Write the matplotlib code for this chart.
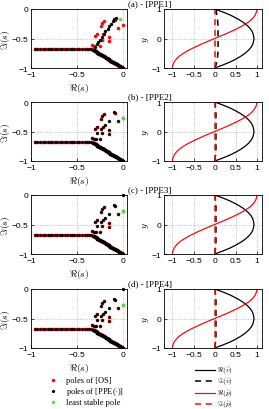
import matplotlib
matplotlib.use("Agg")
import matplotlib.pyplot as plt
import numpy as np

plt.rcParams['mathtext.fontset'] = 'cm'
plt.rcParams['font.family'] = ['Liberation Sans', 'DejaVu Sans']

# ---------------- data ----------------
panel_titles = ["(a) - [PPE1]", "(b) - [PPE2]", "(c) - [PPE3]", "(d) - [PPE4]"]

# S branch (shared by OS and all PPE)
s_re = [-0.955, -0.93, -0.90, -0.875, -0.85, -0.82, -0.795, -0.77, -0.74, -0.715,
        -0.69, -0.66, -0.635, -0.61, -0.58, -0.555, -0.53, -0.50, -0.475, -0.45,
        -0.42, -0.395, -0.37, -0.345]
s_im = -0.685

# P branch (dense)
p_re = [-0.33, -0.32, -0.31, -0.30, -0.29, -0.28, -0.27, -0.26, -0.25, -0.24,
        -0.23, -0.22, -0.21, -0.20, -0.19, -0.18, -0.17, -0.16, -0.15, -0.14,
        -0.13, -0.12, -0.11, -0.10, -0.09, -0.08, -0.07, -0.06, -0.05, -0.04,
        -0.03, -0.02, -0.01, -0.005]
p_im = [-0.69, -0.70, -0.71, -0.72, -0.73, -0.74, -0.75, -0.76, -0.77, -0.78,
        -0.785, -0.795, -0.805, -0.815, -0.825, -0.835, -0.845, -0.855, -0.865, -0.875,
        -0.88, -0.89, -0.90, -0.91, -0.92, -0.93, -0.94, -0.95, -0.96, -0.97,
        -0.975, -0.985, -0.995, -1.0]

# OS A branch (red)
os_a_re = [-0.09, 0.0, -0.21, -0.23, -0.245, -0.06, -0.28, -0.31, -0.22, -0.16,
           -0.23, -0.16, -0.34, -0.32, -0.25]
os_a_im = [-0.18, -0.27, -0.21, -0.24, -0.29, -0.33, -0.43, -0.45, -0.42, -0.48,
           -0.53, -0.55, -0.61, -0.63, -0.63]

# PPE1 A branch (black, panel a)
ppe1_a_re = [-0.08, -0.10, -0.115, -0.13, -0.16, -0.17, -0.20, -0.21, -0.235, -0.25,
             -0.27, -0.29, -0.31]
ppe1_a_im = [-0.16, -0.17, -0.21, -0.25, -0.29, -0.34, -0.38, -0.42, -0.48, -0.52,
             -0.56, -0.60, -0.65]

# extra PPE A-branch modes (panels b-d)
ppe_extra_re = [-0.10, -0.15, -0.20, -0.24, -0.28, -0.30]
ppe_extra_im = [-0.17, -0.32, -0.39, -0.45, -0.52, -0.63]
spurious_re = [0.0]
spurious_im = [0.0]

least_stable = [(-0.04, -0.17), (0.0, -0.27), (0.0, -0.27), (0.0, -0.27)]

# eigenfunction profiles
y_prof = [-1.0, -0.9, -0.8, -0.7, -0.6, -0.5, -0.4, -0.3, -0.2, -0.1, 0.0,
          0.1, 0.2, 0.3, 0.4, 0.5, 0.6, 0.7, 0.8, 0.9, 1.0]
re_v = [0.0, 0.19, 0.36, 0.50, 0.62, 0.72, 0.80, 0.86, 0.90, 0.92, 0.93,
        0.92, 0.90, 0.86, 0.80, 0.72, 0.62, 0.50, 0.36, 0.19, 0.0]
re_p = [-1.0, -0.99, -0.96, -0.91, -0.84, -0.74, -0.62, -0.48, -0.33, -0.17, 0.0,
        0.17, 0.33, 0.48, 0.62, 0.74, 0.84, 0.91, 0.96, 0.99, 1.0]
im_v_a = [0.0, 0.03, 0.05, 0.06, 0.07, 0.075, 0.08, 0.08, 0.08, 0.08, 0.08,
          0.08, 0.08, 0.08, 0.08, 0.075, 0.07, 0.06, 0.05, 0.04, 0.03]
im_v_b = [0.0, 0.01, 0.02, 0.025, 0.03, 0.03, 0.03, 0.03, 0.03, 0.03, 0.03,
          0.03, 0.03, 0.03, 0.03, 0.03, 0.03, 0.025, 0.02, 0.015, 0.01]
im_p = [0.0, 0.0, 0.0, 0.0, 0.0, 0.0, 0.0, 0.0, 0.0, 0.0, 0.0,
        0.0, 0.0, 0.0, 0.0, 0.0, 0.0, 0.0, 0.0, 0.0, 0.0]

legend_left = ['poles of [OS]', 'poles of [PPE($\\cdot$)]', 'least stable pole']
legend_right = [r'$\Re(\hat{v})$', r'$\Im(\hat{v})$', r'$\Re(\hat{p})$', r'$\Im(\hat{p})$']

# ---------------- figure ----------------
W, H = 269, 410
fig = plt.figure(figsize=(W / 100, H / 100), dpi=100)

RED = '#ee1111'
GREEN = '#55dd55'
tops = [10, 103, 196, 290]
ah = 59
tick_fs = 6.0
lab_fs = 7

def style(ax):
    ax.tick_params(direction='in', length=2.5, width=0.5, labelsize=tick_fs, pad=2)
    for sp in ax.spines.values():
        sp.set_linewidth(0.6)
    ax.grid(True, linestyle=':', color='#b0b0b0', linewidth=0.6)
    ax.set_axisbelow(True)

ms_red = 2.6
ms_blk = 2.0
for i, top in enumerate(tops):
    bottom = (H - top - ah) / H
    axL = fig.add_axes([31 / W, bottom, 96 / W, ah / H])
    axR = fig.add_axes([164 / W, bottom, 98 / W, ah / H])

    # left: poles
    axL.plot(s_re, [s_im] * len(s_re), 'o', color=RED, ms=ms_red, mew=0, zorder=3)
    axL.plot(os_a_re, os_a_im, 'o', color=RED, ms=ms_red, mew=0, zorder=3)
    axL.plot(p_re, p_im, 'o', color=RED, ms=ms_red, mew=0, zorder=3)
    axL.plot(s_re, [s_im] * len(s_re), 'o', color='k', ms=ms_blk, mew=0, zorder=4)
    axL.plot(p_re, p_im, 'o', color='k', ms=ms_blk + 0.6, mew=0, zorder=4)
    if i == 0:
        axL.plot(ppe1_a_re, ppe1_a_im, 'o', color='k', ms=ms_blk + 0.4, mew=0, zorder=4)
    else:
        axL.plot(os_a_re, os_a_im, 'o', color='k', ms=ms_blk, mew=0, zorder=4)
        axL.plot(ppe_extra_re, ppe_extra_im, 'o', color='k', ms=ms_blk + 0.4, mew=0, zorder=4)
        if i >= 2:
            axL.plot(spurious_re, spurious_im, 'o', color='k', ms=ms_blk + 0.4, mew=0,
                     zorder=4, clip_on=False)
    axL.plot([least_stable[i][0]], [least_stable[i][1]], 'o', color=GREEN, ms=ms_red,
             mew=0, zorder=5)
    axL.set_xlim(-1, 0.04)
    axL.set_ylim(-1, 0)
    axL.set_xticks([-1, -0.5, 0])
    axL.set_xticklabels(['\u22121', '\u22120.5', '0'])
    axL.set_yticks([-1, -0.5, 0])
    axL.set_yticklabels(['\u22121', '\u22120.5', '0'])
    axL.set_xlabel(r'$\Re(s)$', fontsize=lab_fs)
    axL.xaxis.set_label_coords(0.5, -13 / ah)
    axL.set_ylabel(r'$\Im(s)$', fontsize=lab_fs)
    axL.yaxis.set_label_coords(-19.5 / 96, 0.5)
    style(axL)

    # right: profiles
    im_v = im_v_a if i == 0 else im_v_b
    axR.plot(re_v, y_prof, color='k', lw=0.9)
    axR.plot(im_v, y_prof, color='k', lw=1.1, ls=(0, (4, 3)))
    axR.plot(re_p, y_prof, color=RED, lw=0.9)
    axR.plot(im_p, y_prof, color=RED, lw=1.1, ls=(0, (4, 3)))
    axR.set_xlim(-1.2, 1.12)
    axR.set_ylim(-1, 1)
    axR.set_xticks([-1, -0.5, 0, 0.5, 1])
    axR.set_xticklabels(['\u22121', '\u22120.5', '0', '0.5', '1'])
    axR.set_yticks([-1, 0, 1])
    axR.set_yticklabels(['\u22121', '0', '1'])
    axR.set_ylabel(r'$y$', fontsize=lab_fs)
    axR.yaxis.set_label_coords(-13 / 98, 0.5)
    style(axR)

    fig.text(150 / W, 1 - (top - 6) / H, panel_titles[i], ha='center', va='center',
             fontsize=6.5, family='Liberation Serif')

# legends drawn in a pixel-coordinate overlay
lg = fig.add_axes([0, 0, 1, 1], zorder=10)
lg.set_xlim(0, W)
lg.set_ylim(H, 0)
lg.axis('off')

left_colors = [RED, 'k', GREEN]
left_sizes = [ms_red, ms_blk + 0.3, ms_red]
left_ys = [381, 392, 403]
for lab, c, ms, yy in zip(legend_left, left_colors, left_sizes, left_ys):
    lg.plot([53], [yy], 'o', color=c, ms=ms, mew=0)
    lg.text(66, yy, lab, ha='left', va='center', fontsize=6, family='Liberation Serif')

right_styles = [('k', '-', 0.9), ('k', (0, (4, 3)), 1.1), (RED, '-', 0.9), (RED, (0, (4, 3)), 1.1)]
right_ys = [370.5, 382, 393.5, 405]
for lab, (c, ls, lw), yy in zip(legend_right, right_styles, right_ys):
    lg.plot([195, 215], [yy, yy], color=c, ls=ls, lw=lw)
    lg.text(217, yy, lab, ha='left', va='center', fontsize=5.3)

fig.savefig('out.png', dpi=100)
